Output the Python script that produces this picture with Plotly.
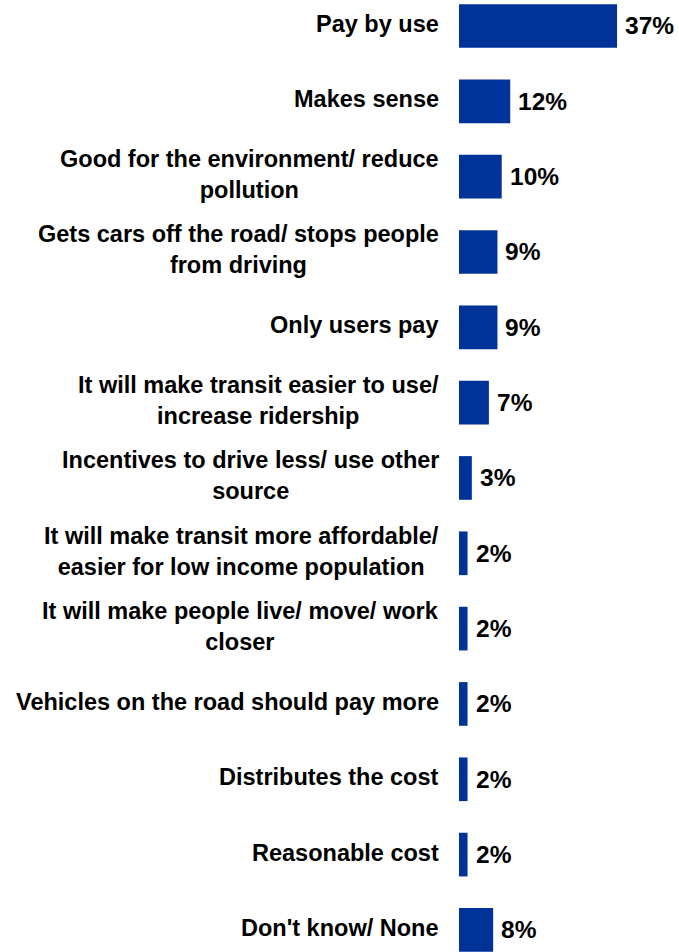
import plotly.graph_objects as go

# Reasons for support, in display order (top to bottom)
categories = [
    "Pay by use",
    "Makes sense",
    "Good for the environment/ reduce<br>pollution",
    "Gets cars off the road/ stops people<br>from driving",
    "Only users pay",
    "It will make transit easier to use/<br>increase ridership",
    "Incentives to drive less/ use other<br>source",
    "It will make transit more affordable/<br>easier for low income population",
    "It will make people live/ move/ work<br>closer",
    "Vehicles on the road should pay more",
    "Distributes the cost",
    "Reasonable cost",
    "Don't know/ None",
]
values = [37, 12, 10, 9, 9, 7, 3, 2, 2, 2, 2, 2, 8]
value_labels = [f"{v}%" for v in values]

BAR_COLOR = "#003399"
LABEL_FONT = dict(family="Liberation Sans, Arial, sans-serif", size=23.5, color="#000000", weight="bold")
VALUE_FONT = dict(family="Liberation Sans, Arial, sans-serif", size=24.5, color="#000000", weight="bold")

fig = go.Figure(
    go.Bar(
        x=values,
        y=categories,
        orientation="h",
        marker=dict(color=BAR_COLOR, line=dict(width=0)),
        width=0.58,
        hoverinfo="skip",
    )
)

annotations = []
for cat, val, lab in zip(categories, values, value_labels):
    # category label to the left of the plot area
    annotations.append(dict(
        x=0, xref="paper", y=cat, yref="y",
        text=cat, showarrow=False,
        xanchor="right", yanchor="middle", align="center",
        xshift=-18, yshift=2, font=LABEL_FONT,
    ))
    # value label just past the bar end
    annotations.append(dict(
        x=val, xref="x", y=cat, yref="y",
        text=lab, showarrow=False,
        xanchor="left", yanchor="middle",
        xshift=6, font=VALUE_FONT,
    ))

fig.update_layout(
    width=679,
    height=952,
    margin=dict(l=459, r=0, t=0, b=0),
    paper_bgcolor="white",
    plot_bgcolor="white",
    showlegend=False,
    annotations=annotations,
    xaxis=dict(range=[0, 51.5], visible=False, fixedrange=True),
    yaxis=dict(
        type="category",
        categoryorder="array",
        categoryarray=categories,
        range=[12.293, -0.345],
        showticklabels=False,
        showgrid=False,
        zeroline=False,
        showline=False,
        ticks="",
        fixedrange=True,
    ),
)

fig.write_html("out.html")
